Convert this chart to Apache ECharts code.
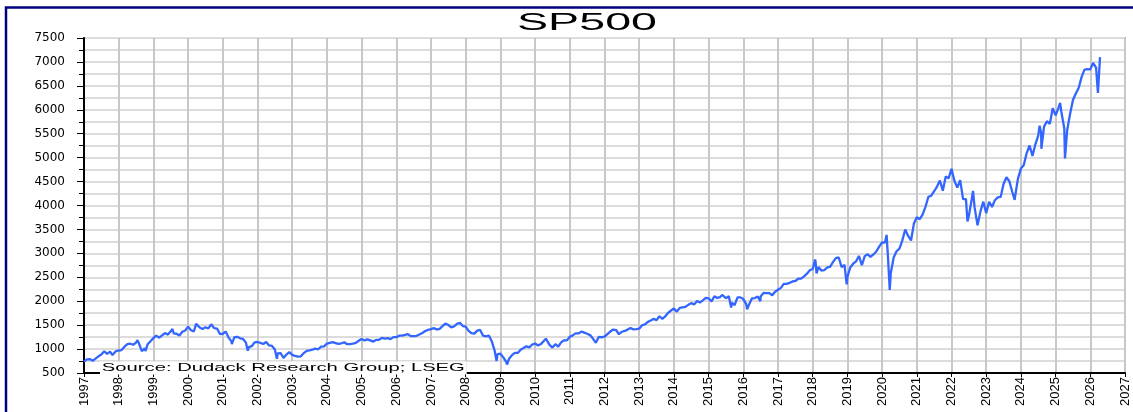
<!DOCTYPE html>
<html><head><meta charset="utf-8">
<script src="https://cdn.jsdelivr.net/npm/echarts@6/dist/echarts.min.js"></script>
<style>html,body{margin:0;padding:0;background:#fff}#c{width:1133px;height:412px}</style>
</head><body><div id="c"></div>
<script>
// ---- data ----
const titleText = 'SP500';
const sourceText = 'Source: Dudack Research Group; LSEG';
const startYear = 1997;   // first month of monthlyClose is Jan 1997
const xMin = 1997, xMax = 2027;
const yMin = 500, yMax = 7500, yStep = 500;
// approximate month-end levels, Jan 1997 .. Feb 2026
const monthlyClose = [
  786, 791, 757, 801, 848, 885, 954, 899, 947, 915, 955, 970,
  980, 1049, 1102, 1112, 1091, 1134, 1121, 957, 1017, 1099, 1164, 1229,
  1280, 1238, 1286, 1335, 1302, 1373, 1329, 1320, 1283, 1363, 1389, 1469,
  1394, 1366, 1499, 1452, 1421, 1455, 1431, 1518, 1437, 1429, 1315, 1320,
  1366, 1240, 1160, 1249, 1256, 1224, 1211, 1134, 1041, 1060, 1139, 1148,
  1130, 1107, 1147, 1077, 1067, 990, 912, 916, 815, 886, 936, 880,
  856, 841, 848, 917, 964, 975, 990, 1008, 996, 1051, 1058, 1112,
  1131, 1145, 1126, 1107, 1121, 1141, 1102, 1104, 1115, 1130, 1174, 1212,
  1181, 1204, 1181, 1157, 1192, 1191, 1234, 1220, 1229, 1207, 1249, 1248,
  1280, 1281, 1295, 1311, 1270, 1270, 1277, 1304, 1336, 1378, 1401, 1418,
  1438, 1407, 1421, 1482, 1531, 1503, 1455, 1474, 1527, 1549, 1481, 1468,
  1379, 1331, 1323, 1386, 1400, 1280, 1267, 1283, 1165, 969, 896, 903,
  826, 735, 798, 873, 919, 919, 987, 1021, 1057, 1036, 1096, 1115,
  1074, 1104, 1169, 1187, 1089, 1031, 1102, 1049, 1141, 1183, 1181, 1258,
  1286, 1327, 1326, 1364, 1345, 1321, 1292, 1219, 1131, 1253, 1247, 1258,
  1312, 1366, 1408, 1398, 1310, 1362, 1379, 1407, 1441, 1412, 1416, 1426,
  1498, 1515, 1569, 1598, 1631, 1606, 1686, 1633, 1682, 1757, 1806, 1848,
  1783, 1859, 1872, 1884, 1924, 1960, 1931, 2003, 1972, 2018, 2068, 2059,
  1995, 2105, 2068, 2086, 2107, 2063, 2104, 1972, 1920, 2079, 2080, 2044,
  1940, 1932, 2060, 2065, 2097, 2099, 2174, 2171, 2168, 2126, 2199, 2239,
  2279, 2364, 2363, 2384, 2412, 2423, 2470, 2472, 2519, 2575, 2648, 2674,
  2824, 2714, 2641, 2648, 2705, 2718, 2816, 2902, 2914, 2712, 2760, 2507,
  2704, 2784, 2834, 2946, 2752, 2942, 2980, 2926, 2977, 3038, 3141, 3231,
  3226, 2954, 2585, 2912, 3044, 3100, 3271, 3500, 3363, 3270, 3622, 3756,
  3714, 3811, 3973, 4181, 4204, 4298, 4395, 4523, 4308, 4605, 4567, 4766,
  4516, 4374, 4530, 4132, 4132, 3785, 4130, 3955, 3586, 3872, 4080, 3840,
  4077, 3970, 4109, 4169, 4180, 4450, 4589, 4508, 4288, 4194, 4568, 4770,
  4846, 5096, 5254, 5036, 5278, 5460, 5522, 5648, 5762, 5705, 6032, 5882,
  6041, 5955, 5612, 5569, 5912, 6205, 6339, 6460, 6688, 6840, 6849, 6845,
  6940, 6880
];
// intra-month highs / lows visible in the picture: [decimal year, level]
const extremes = [
  [1997.00, 740], [1997.28, 737], [1997.82, 876], [1998.54, 1187], [1998.77, 959],
  [1999.55, 1419], [1999.80, 1247], [2000.23, 1527], [2000.67, 1520],
  [2001.26, 1103], [2001.72, 965], [2002.56, 797], [2002.77, 777], [2003.19, 800],
  [2007.77, 1565], [2008.89, 752], [2009.19, 677], [2010.31, 1217], [2010.50, 1023],
  [2011.75, 1099], [2015.39, 2131], [2015.65, 1868], [2016.11, 1829], [2016.49, 2000],
  [2018.07, 2873], [2018.11, 2581], [2018.72, 2931], [2018.98, 2351],
  [2020.13, 3386], [2020.22, 2237], [2022.005, 4797], [2022.46, 3667], [2022.62, 4305],
  [2022.78, 3577], [2023.82, 4117], [2024.54, 5667], [2024.59, 5186],
  [2025.13, 6144], [2025.27, 4982], [2026.08, 6978], [2026.22, 6350], [2026.28, 7100]
];

// ---- build series ----
const seriesData = monthlyClose.map((v, i) => [startYear + (i + 1) / 12, v])
  .concat(extremes)
  .sort((a, b) => a[0] - b[0]);

function fitScale(text, font, target) {
  const ctx = document.createElement('canvas').getContext('2d');
  ctx.font = font;
  return target / ctx.measureText(text).width;
}
const titleFont = '24px "Liberation Sans", Arial, sans-serif';
const srcFont = '11px "Liberation Sans", Arial, sans-serif';

const chart = echarts.init(document.getElementById('c'), null, { renderer: 'canvas' });
chart.setOption({
  animation: false,
  backgroundColor: '#ffffff',
  grid: { left: 84, right: 8, top: 38, bottom: 39, show: true, borderColor: '#9a9a9a', borderWidth: 2, backgroundColor: 'transparent' },
  xAxis: {
    type: 'value', min: xMin, max: xMax, interval: 1,
    axisLine: { show: true, onZero: false, lineStyle: { color: '#000', width: 2 } },
    axisTick: { show: true, length: 4, lineStyle: { color: '#000', width: 1 } },
    axisLabel: { rotate: 90, margin: 4, color: '#000', fontSize: 13, fontFamily: '"Liberation Sans", Arial, sans-serif',
      showMinLabel: true, showMaxLabel: true, formatter: v => String(Math.round(v)) },
    splitLine: { show: true, lineStyle: { color: '#c8c8c8', width: 2 } }
  },
  yAxis: {
    type: 'value', min: yMin, max: yMax, interval: yStep,
    axisLine: { show: true, lineStyle: { color: '#000', width: 2 } },
    axisTick: { show: true, length: 7, lineStyle: { color: '#000', width: 1 } },
    minorTick: { show: true, splitNumber: 2, length: 5, lineStyle: { color: '#000', width: 1 } },
    minorSplitLine: { show: true, lineStyle: { color: '#dcdcdc', width: 2 } },
    axisLabel: { margin: 19, color: '#000', fontSize: 12, fontFamily: '"DejaVu Sans", sans-serif',
      formatter: v => String(v) },
    splitLine: { show: true, lineStyle: { color: '#dcdcdc', width: 2 } }
  },
  series: [{
    type: 'line', data: seriesData, showSymbol: false, symbol: 'none',
    lineStyle: { color: '#3366ff', width: 2.3 }, z: 3
  }],
  graphic: [
    { type: 'rect', silent: true, z: 0, shape: { x: 6, y: 7.5, width: 1300, height: 600 },
      style: { fill: 'none', stroke: '#000080', lineWidth: 2.5 } },
    { type: 'text', x: 587, y: 23, scaleX: fitScale(titleText, titleFont, 140), z: 10,
      style: { text: titleText, font: titleFont, fill: '#000', align: 'center', verticalAlign: 'middle' } },
    { type: 'text', x: 100, y: 368, scaleX: fitScale(sourceText, srcFont, 363), z: 10,
      style: { text: sourceText, font: srcFont, fill: '#000', align: 'left', verticalAlign: 'middle',
        backgroundColor: '#fff', padding: [1, 1, 1, 1] } }
  ]
});
</script></body></html>
